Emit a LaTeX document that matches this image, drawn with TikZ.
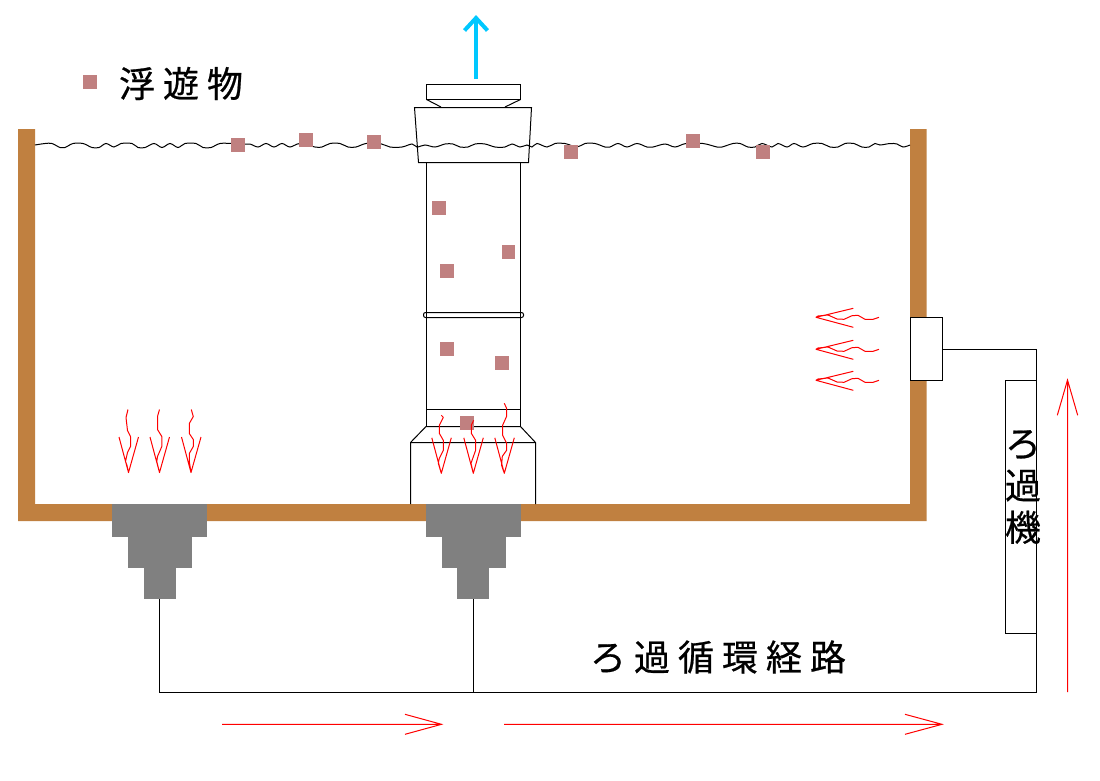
\documentclass[tikz,border=0pt]{standalone}
\usepackage{fontspec}
\newfontfamily\jpfont[FakeBold=0.6]{Noto Sans CJK JP}
\definecolor{wallc}{HTML}{C08040}
\definecolor{floatc}{HTML}{C08080}
\definecolor{nozzlec}{HTML}{808080}
\definecolor{upblue}{HTML}{00C8FF}
\tikzset{
  wallpart/.style={fill=wallc,draw=none},
  floater/.style={fill=floatc,draw=none},
  nozzlepart/.style={fill=nozzlec,draw=none,inner sep=0pt,outer sep=0pt,anchor=north},
  pipeline/.style={draw=black,line width=1pt},
  flameline/.style={draw=red,line width=1pt,line join=round},
  redarrow/.style={draw=red,line width=1pt},
  jplabel/.style={inner sep=0pt,font=\jpfont\fontsize{36}{36}\selectfont,text=black},
  boxpart/.style={draw=black,line width=1pt,fill=white,inner sep=0pt,outer sep=0pt,anchor=north west}
}
\newcommand{\flameup}[3]{\draw[flameline,shift={(#1,#2)}] (-9.5,-35.5) -- (0,0) -- (10,-35.5) (0,0) -- #3;}
\newcommand{\flameleft}[2]{\draw[flameline,shift={(#1,#2)}] (37.3,-9) -- (0,0) -- (37.3,10)
  (0,0) -- (2,-1.3) -- (12,-2.3) -- (21,1.7) -- (28,2) -- (36,-1.6) -- (42,-2) -- (49,2) -- (57,2) -- (63,0);}
\newcommand{\floatsq}[2]{\fill[floater] (#1,#2) rectangle ++(13.5,13.5);}
\begin{document}
\begin{tikzpicture}[x=1pt,y=-1pt]
\useasboundingbox[fill=white] (0,0) rectangle (1100,780);
% tank
\fill[wallpart] (18,129) -- (35,129) -- (35,504) -- (910,504) -- (910,129) -- (926.5,129) -- (926.5,521) -- (18,521) -- cycle;
% separator pipe
\draw[pipeline] (426,162) -- (426,426) (520.5,162) -- (520.5,426);
\draw[pipeline] (426,409.5) -- (520.5,409.5);
\draw[pipeline,rounded corners=2pt] (423.5,312.5) rectangle (523.5,317.5);
\draw[pipeline] (410.5,504) -- (410.5,442.5) -- (426,426.5) -- (520.5,426.5) -- (535.5,442.5) -- (535.5,504) (410.5,442.5) -- (535.5,442.5);
% collar and top cap
\draw[pipeline] (414.5,107.5) -- (416.5,135) -- (418.5,162.5) -- (528.5,162.5) -- (530,135) -- (531.5,107.5) -- cycle;
\draw[pipeline] (426.5,84.5) rectangle (520.5,99.5);
\draw[pipeline] (426.5,99.5) -- (441,107) (520.5,99.5) -- (505,107);
% water surface
\draw[line width=1pt,black] plot[smooth,tension=.55] coordinates {
(35,145) (45,143.5) (52,143.5) (60,147.5) (65,147.5) (73,143.5) (83,143.5) (92,147.5) (99,147.5) (106,143.5) (114,147) (121,143.5) (132,143.5) (138,147.5) (145,147.5) (154,143.5) (162,147.5) (170,143.5) (178,147.5) (185,143.5) (196,143.5) (203,147.5) (211,147.5) (220,143.5) (232,143.5)
(245,144) (250,144) (258,147) (266,143.5) (274,147) (282,143.5) (290,147) (300,143.5)
(315,147) (322,147) (330,143.5) (340,143.5) (348,147) (356,147) (366,143.5)
(380,143.5) (390,147) (402,147) (412,144) (417,147) (425,145) (435,147) (445,144) (453,144) (460,147) (468,147) (475,144) (485,144) (495,147) (505,147) (512,144) (520,147) (527,145)
(532,147) (537,143.5) (547,147) (555,143.5) (565,143.5) (577,147) (585,143.5) (595,143.5) (605,147) (610,147) (618,143.5) (627,147) (637,143.5) (647,147) (653,147) (665,144) (675,147) (686,143.5)
(703,143.5) (717,147) (722,147) (733,143.5) (740,143.5) (748,147) (755,147) (762,143.5) (772,147) (778,143.5) (787,147) (794,143.5) (803,147) (813,143.5) (822,143.5) (830,147) (838,147) (845,143.5) (854,143.5) (862,147) (869,147) (875,143.5) (880,145) (890,143.5) (897,144) (903,147) (910,145)};
% floaters
\floatsq{83}{75}
\floatsq{231}{138}
\floatsq{299}{133}
\floatsq{367}{135}
\floatsq{564}{145}
\floatsq{686}{134}
\floatsq{756}{145}
\floatsq{432}{201}
\floatsq{501.5}{245}
\floatsq{440}{264}
\floatsq{440}{342}
\floatsq{495}{356}
\floatsq{460}{416}
% nozzles
\node[nozzlepart,minimum width=95pt,minimum height=33pt] (nozzleAa) at (159.5,504) {};
\node[nozzlepart,minimum width=64pt,minimum height=31pt] (nozzleAb) at (159.5,537) {};
\node[nozzlepart,minimum width=32pt,minimum height=31pt] (nozzleAc) at (159.5,568) {};
\node[nozzlepart,minimum width=95pt,minimum height=33pt] (nozzleBa) at (473.5,504) {};
\node[nozzlepart,minimum width=64pt,minimum height=31pt] (nozzleBb) at (473.5,537) {};
\node[nozzlepart,minimum width=32pt,minimum height=31pt] (nozzleBc) at (473,568) {};
% outlet and filter
\node[boxpart,minimum width=32pt,minimum height=63pt] (outlet) at (910.5,317.5) {};
\node[boxpart,minimum width=31pt,minimum height=252.5pt] (filter) at (1005.5,380.5) {};
% piping
\coordinate (corner) at (1036.5,692);
\coordinate (tee) at (473,692);
\coordinate (cornerL) at (159.5,692);
\coordinate (cornerT) at (1036.5,349.5);
\draw[pipeline] (nozzleAc.south) -- (cornerL) -- (corner) -- (cornerT) -- (outlet.east |- cornerT);
\draw[pipeline] (nozzleBc.south) -- (tee);
% bubbling flow
\flameup{128.5}{472.5}{(-1.5,-7) -- (-3,-11) -- (-1,-20) -- (2,-26) -- (2,-36) -- (-1,-42) -- (-2.5,-55) -- (-0.5,-63)}
\flameup{159.5}{472.5}{(-2.7,-11) -- (-2,-16) -- (2.3,-26) -- (2.3,-36) -- (-2,-43) -- (-2,-56) -- (0,-63)}
\flameup{191}{472.5}{(-1.7,-11) -- (-1.7,-19) -- (2.3,-26) -- (2.3,-33) -- (-1.7,-39) -- (-1.7,-49) -- (2.3,-56) -- (0.3,-63)}
\flameup{441.3}{473.3}{(-3,-10) -- (-2,-15) -- (2,-23) -- (2,-33) -- (-2,-40) -- (-2,-48) -- (2,-56) -- (0,-58)}
\flameup{473.3}{473.3}{(-2.3,-10) -- (2.3,-23) -- (2.3,-33) -- (-2,-40) -- (-2,-48) -- (0.3,-53)}
\flameup{504.3}{473.3}{(-2.7,-8) -- (-2,-17) -- (2.3,-23) -- (2.3,-30) -- (-1.7,-38) -- (-1.7,-48) -- (2.3,-57) -- (2.3,-65) -- (0,-70)}
\flameleft{816}{317.3}
\flameleft{816}{349.3}
\flameleft{816}{380.3}
% direction arrows
\coordinate (aS) at (222,724.3); \coordinate (aT) at (441.5,724.3);
\draw[redarrow] (aS) -- (aT) (405,714.3) -- (aT) -- (405,734.3);
\coordinate (bS) at (504,724.3); \coordinate (bT) at (942,724.3);
\draw[redarrow] (bS) -- (bT) (905,714.3) -- (bT) -- (905,734.3);
\coordinate (cS) at (1067.5,692); \coordinate (cT) at (1067.5,380);
\draw[redarrow] (cS) -- (cT) (1057.3,415.3) -- (cT) -- (1077.7,415.3);
\coordinate (dS) at (476,79); \coordinate (dT) at (476,18);
\draw[draw=upblue,line width=3.8pt] (dS) -- (dT);
\draw[draw=upblue,line width=4pt,miter limit=10] (464.5,30.5) -- (dT) -- (487.5,30.5);
% labels
\node[jplabel,anchor=center] (legend) at (181,83.5) {浮\kern8pt 遊\kern8pt 物};
\node[jplabel,anchor=center] (route) at (718,657) {ろ\kern8pt 過\kern8pt 循\kern8pt 環\kern8pt 経\kern8pt 路};
\node[inner sep=0pt,anchor=center,align=center,font=\jpfont\fontsize{36}{42}\selectfont] (filterlabel) at (1023,487) {ろ\\過\\機};
\end{tikzpicture}
\end{document}
